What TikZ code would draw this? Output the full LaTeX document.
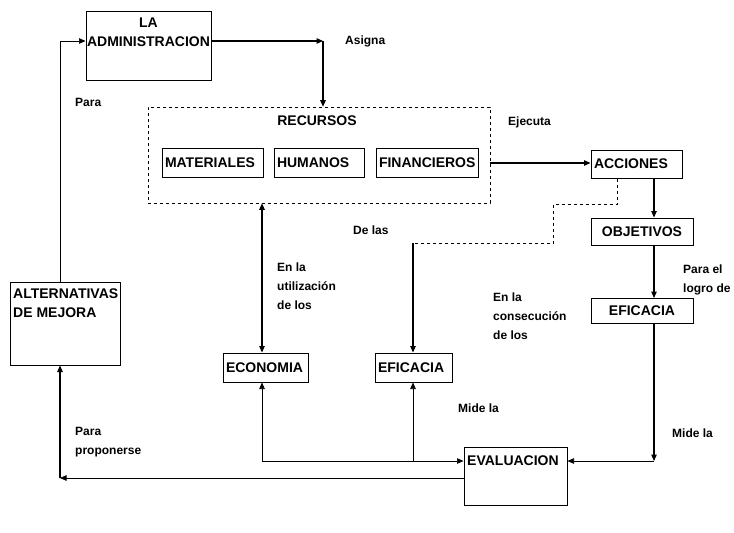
\documentclass[tikz,border=0pt]{standalone}
\usepackage{fontspec}
\setmainfont{Liberation Sans}
\usetikzlibrary{arrows.meta}
\begin{document}
\begin{tikzpicture}[x=1pt,y=-1pt,
  box/.style={draw, line width=1pt, inner xsep=3pt, inner ysep=0pt, align=left,
    font=\fontsize{14}{19}\selectfont\bfseries},
  dbox/.style={draw, dashed, line width=0.6pt, inner sep=0pt},
  lbl/.style={inner sep=0pt, align=left, font=\fontsize{14}{19}\selectfont\bfseries},
  note/.style={inner sep=0pt, align=left, anchor=west, font=\fontsize{12}{19}\selectfont\bfseries},
  thickln/.style={line width=1.2pt},
  thinln/.style={line width=0.6pt},
  tip/.style={-{Triangle[length=6.5pt,width=5.5pt]}},
  tips/.style={{Triangle[length=6.5pt,width=5.5pt]}-{Triangle[length=6.5pt,width=5.5pt]}}
]
\useasboundingbox (0,0) rectangle (734,533);
% boxes
\node[box, minimum width=125pt, minimum height=69pt] (adm) at (148.5,45.5) {};
\node[lbl, align=center] (admt) at (148.5,32.5) {LA\\ADMINISTRACION};
\node[dbox, minimum width=342pt, minimum height=96pt] (rec) at (319,155) {};
\node[lbl] (rect) at (317,121) {RECURSOS};
\node[box, text width=95pt, minimum height=29pt] (mat) at (212.5,162.5) {MATERIALES};
\node[box, text width=84pt, minimum height=29pt] (hum) at (319,162.5) {HUMANOS};
\node[box, text width=96pt, minimum height=29pt] (fin) at (427,162.5) {FINANCIEROS};
\node[box, text width=85pt, minimum height=28pt] (acc) at (636.5,164) {ACCIONES};
\node[box, text width=96pt, align=center, minimum height=27pt] (obj) at (642,231.5) {OBJETIVOS};
\node[box, text width=96pt, align=center, minimum height=25pt] (efr) at (642,311) {EFICACIA};
\node[box, text width=79pt, minimum height=29pt] (eco) at (265.5,367.5) {ECONOMIA};
\node[box, text width=71pt, minimum height=29pt] (efm) at (413.5,367.5) {EFICACIA};
\node[box, minimum width=103pt, minimum height=58pt] (eva) at (515.5,476) {};
\node[lbl, anchor=west] (evat) at (467,461) {EVALUACION};
\node[box, minimum width=110pt, minimum height=83pt] (alt) at (65,323.5) {};
\node[lbl, anchor=north west] (altt) at (13,289) {ALTERNATIVAS\\DE MEJORA};
% notes
\node[note] (n1) at (345,41) {Asigna};
\node[note] (n2) at (75,102) {Para};
\node[note] (n3) at (508,122) {Ejecuta};
\node[note] (n4) at (353,230) {De las};
\node[note] (n5) at (277,286) {En la\\utilización\\de los};
\node[note] (n6) at (493,316) {En la\\consecución\\de los};
\node[note] (n7) at (683,280) {Para el\\logro de};
\node[note] (n8) at (458,408) {Mide la};
\node[note] (n9) at (75,442) {Para\\proponerse};
\node[note] (n10) at (672,433) {Mide la};
% coordinates
\coordinate (c0) at (60,41);
\coordinate (c1) at (323,41);
\coordinate (vx) at (654,0);
\coordinate (c2) at (654,461);
\coordinate (d0) at (617,0);
\coordinate (d1) at (617,204);
\coordinate (d2) at (553,204);
\coordinate (d3) at (553,243);
\coordinate (d4) at (413,243);
\coordinate (ex) at (262,0);
\coordinate (b1) at (262,461);
\coordinate (b2) at (413,461);
\coordinate (b3) at (60,478);
% connectors
\draw[thinln] (c0 |- alt.north) -- (c0);
\draw[thinln, tip] (c0) -- (c0 -| adm.west);
\draw[thickln, tip] (c1 -| adm.east) -- (c1);
\draw[thickln, tip] (c1) -- (c1 |- rec.north);
\draw[thickln, tip] (rec.east |- 0,163) -- (acc.west |- 0,163);
\draw[thickln, tip] (vx |- acc.south) -- (vx |- obj.north);
\draw[thickln, tip] (vx |- obj.south) -- (vx |- efr.north);
\draw[thickln, tip] (vx |- efr.south) -- (c2);
\draw[thinln, tip] (c2) -- (c2 -| eva.east);
\draw[thinln, dashed] (d0 |- acc.south) -- (d1) -- (d2) -- (d3) -- (d4);
\draw[thickln, tip] (d4) -- (d4 |- efm.north);
\draw[thickln, tips] (ex |- rec.south) -- (ex |- eco.north);
\draw[thinln, tip] (b1) -- (b1 -| eva.west);
\draw[thinln, tip] (b1) -- (b1 |- eco.south);
\draw[thinln, tip] (b2) -- (b2 |- efm.south);
\draw[thinln, tip] (b3 -| eva.west) -- (b3);
\draw[thickln, tip] (b3) -- (b3 |- alt.south);
\end{tikzpicture}
\end{document}
